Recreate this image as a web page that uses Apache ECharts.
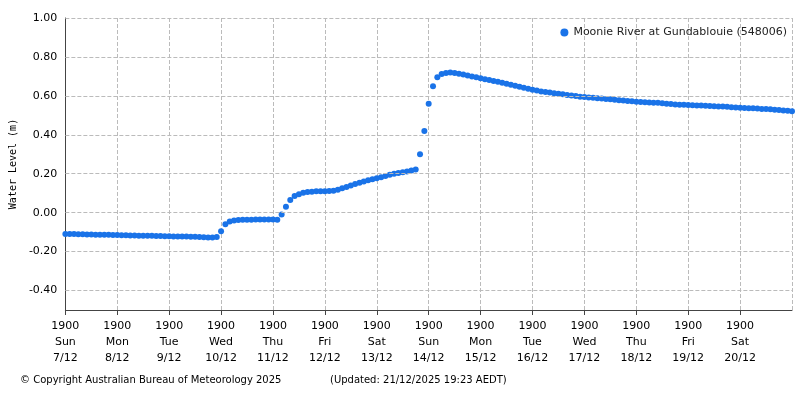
<!DOCTYPE html>
<html><head><meta charset="utf-8">
<script src="https://cdn.jsdelivr.net/npm/echarts@6/dist/echarts.min.js"></script>
<style>html,body{margin:0;padding:0;background:#fff}#c{width:800px;height:400px}</style>
</head><body><div id="c"></div>
<script>
const dayNames = ['Sun','Mon','Tue','Wed','Thu','Fri','Sat','Sun','Mon','Tue','Wed','Thu','Fri','Sat'];
const dayDates = ['7/12','8/12','9/12','10/12','11/12','12/12','13/12','14/12','15/12','16/12','17/12','18/12','19/12','20/12'];
const yTicks = [-0.4,-0.2,0,0.2,0.4,0.6,0.8,1.0];
// hours since Sun 7/12 19:00, every 2 hours
const levels = [
-0.110,-0.110,-0.110,-0.111,-0.111,-0.112,-0.112,-0.113,-0.113,-0.114,-0.114,-0.115,
-0.115,-0.116,-0.116,-0.117,-0.117,-0.118,-0.118,-0.119,-0.119,-0.120,-0.120,-0.121,
-0.121,-0.122,-0.122,-0.123,-0.123,-0.124,-0.124,-0.125,-0.126,-0.127,-0.128,-0.125,
-0.095,-0.060,-0.045,-0.040,-0.038,-0.037,-0.036,-0.036,-0.035,-0.035,-0.035,-0.035,
-0.035,-0.036,-0.010,0.030,0.065,0.085,0.095,0.102,0.106,0.108,0.110,0.110,
0.110,0.111,0.113,0.118,0.125,0.132,0.140,0.147,0.154,0.160,0.166,0.172,
0.177,0.182,0.188,0.195,0.200,0.204,0.208,0.212,0.216,0.222,0.300,0.420,
0.560,0.650,0.695,0.712,0.718,0.720,0.718,0.714,0.710,0.705,0.700,0.695,
0.690,0.686,0.681,0.676,0.672,0.667,0.662,0.657,0.652,0.647,0.642,0.637,
0.632,0.627,0.623,0.620,0.617,0.614,0.611,0.608,0.605,0.602,0.599,0.596,
0.594,0.592,0.590,0.588,0.586,0.584,0.582,0.580,0.578,0.576,0.574,0.572,
0.570,0.568,0.567,0.566,0.565,0.564,0.562,0.560,0.558,0.556,0.555,0.554,
0.553,0.552,0.551,0.550,0.549,0.548,0.547,0.546,0.545,0.544,0.542,0.540,
0.539,0.538,0.537,0.536,0.535,0.533,0.532,0.531,0.529,0.527,0.525,0.523,0.521];
const data = levels.map((v,i)=>[i*2,v]);
const chart = echarts.init(document.getElementById('c'));
const F = 'DejaVu Sans';
chart.setOption({
  animation:false,
  grid:{left:62,right:8,top:18,bottom:90},
  legend:{top:22,right:8,itemWidth:8,itemHeight:8,icon:'circle',itemGap:4,
    textStyle:{fontFamily:F,fontSize:11,color:'#222'},data:['Moonie River at Gundablouie (548006)']},
  xAxis:{type:'value',min:0,max:336,interval:24,
    axisLine:{onZero:false,lineStyle:{color:'#444'}},axisTick:{show:true,lineStyle:{color:'#444'}},
    splitLine:{show:true,lineStyle:{type:'dashed',color:'#bbb'}},
    axisLabel:{fontFamily:F,fontSize:11,color:'#000',lineHeight:16,showMaxLabel:false,
      formatter:v=>{const d=Math.round(v/24);return d<dayNames.length?'1900\n'+dayNames[d]+'\n'+dayDates[d]:'';}}},
  yAxis:{type:'value',min:-0.5,max:1.0,interval:0.1,
    name:'Water Level (m)',nameLocation:'middle',nameGap:42,
    nameTextStyle:{fontFamily:'DejaVu Sans Mono',fontSize:10,color:'#000'},
    axisLine:{show:true,lineStyle:{color:'#444'}},axisTick:{show:false},splitLine:{show:false},
    axisLabel:{fontFamily:F,fontSize:11,color:'#000',
      formatter:v=>{const r=Math.round(v*10);return (r%2===0)?v.toFixed(2):'';}}},
  series:[{name:'Moonie River at Gundablouie (548006)',type:'scatter',data:data,
    symbolSize:6,itemStyle:{color:'#1a73e8',opacity:1},
    markLine:{silent:true,symbol:'none',label:{show:false},
      lineStyle:{type:'dashed',color:'#bbb',width:1},
      data:yTicks.map(v=>({yAxis:v}))}}],
  graphic:[
    {type:'text',left:20,top:375,style:{text:'© Copyright Australian Bureau of Meteorology 2025',font:'10px DejaVu Sans',fill:'#000'}},
    {type:'text',left:330,top:375,style:{text:'(Updated: 21/12/2025 19:23 AEDT)',font:'10px DejaVu Sans',fill:'#000'}}
  ]
});
</script></body></html>
